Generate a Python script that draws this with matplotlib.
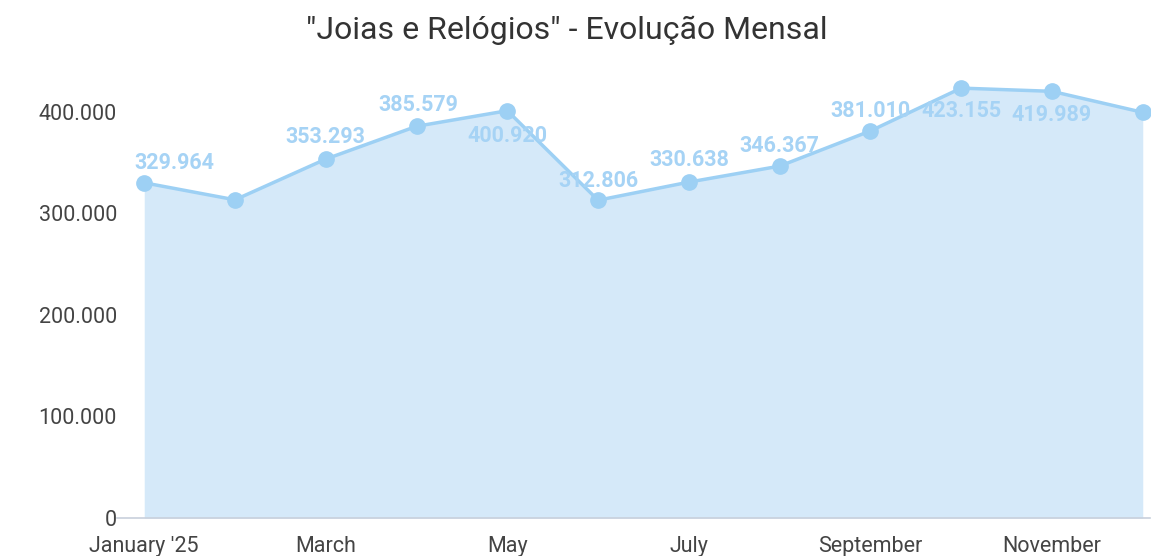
import matplotlib.pyplot as plt
from matplotlib.ticker import FuncFormatter

plt.rcParams['font.family'] = ['Roboto', 'DejaVu Sans']

months = ['January', 'February', 'March', 'April', 'May', 'June', 'July',
          'August', 'September', 'October', 'November', 'December']
values = [329964, 313200, 353293, 385579, 400920, 312806, 330638,
          346367, 381010, 423155, 419989, 399300]
labels = ['329.964', None, '353.293', '385.579', '400.920', '312.806', '330.638',
          '346.367', '381.010', '423.155', '419.989', None]
tick_pos = [0, 2, 4, 6, 8, 10]
tick_labels = ["January '25", 'March', 'May', 'July', 'September', 'November']
yticks = [0, 100000, 200000, 300000, 400000]

# label offsets in pixels (dx, dy) relative to the point
offsets = [(30, 20), None, (0, 22), (2, 21), (0, -25), (0, 19), (0, 22),
           (0, 20), (0, 20), (0, -23), (0, -24), None]

line_c = '#9dd0f4'
fill_c = '#d5e9f9'
lbl_c = '#a6d3f5'

fig = plt.figure(figsize=(11.68, 5.56), dpi=100)
ax = fig.add_axes([117 / 1168, 38 / 556, (1150 - 117) / 1168, (518 - 71) / 556])

x = list(range(len(values)))
ax.fill_between(x, values, 0, color=fill_c, lw=0)
ax.plot(x, values, color=line_c, lw=2.5, marker='o', ms=11, zorder=3)

for i, (v, t) in enumerate(zip(values, labels)):
    if t is None:
        continue
    dx, dy = offsets[i]
    ax.annotate(t, (i, v), xytext=(dx, dy), textcoords='offset pixels',
                ha='center', va='center', fontsize=15.5, fontweight='bold',
                color=lbl_c, zorder=4)

ax.set_xlim(-0.3, 11.08)
ax.set_ylim(0, 440000)
ax.set_yticks(yticks)
ax.yaxis.set_major_formatter(FuncFormatter(lambda v, p: f'{int(v):,}'.replace(',', '.')))
ax.set_xticks(tick_pos)
ax.set_xticklabels(tick_labels)
ax.tick_params(length=0, labelsize=15.5, colors='#444444')
ax.tick_params(axis='x', pad=13)
ax.tick_params(axis='y', pad=0)

for s in ['top', 'right', 'left']:
    ax.spines[s].set_visible(False)
ax.spines['bottom'].set_color('#c8d0dc')
ax.spines['bottom'].set_linewidth(1.2)

fig.text(0.485, 0.945, '"Joias e Relógios" - Evolução Mensal', ha='center', va='center',
         fontsize=23, color='#333333')

fig.savefig('out.png', dpi=100)
